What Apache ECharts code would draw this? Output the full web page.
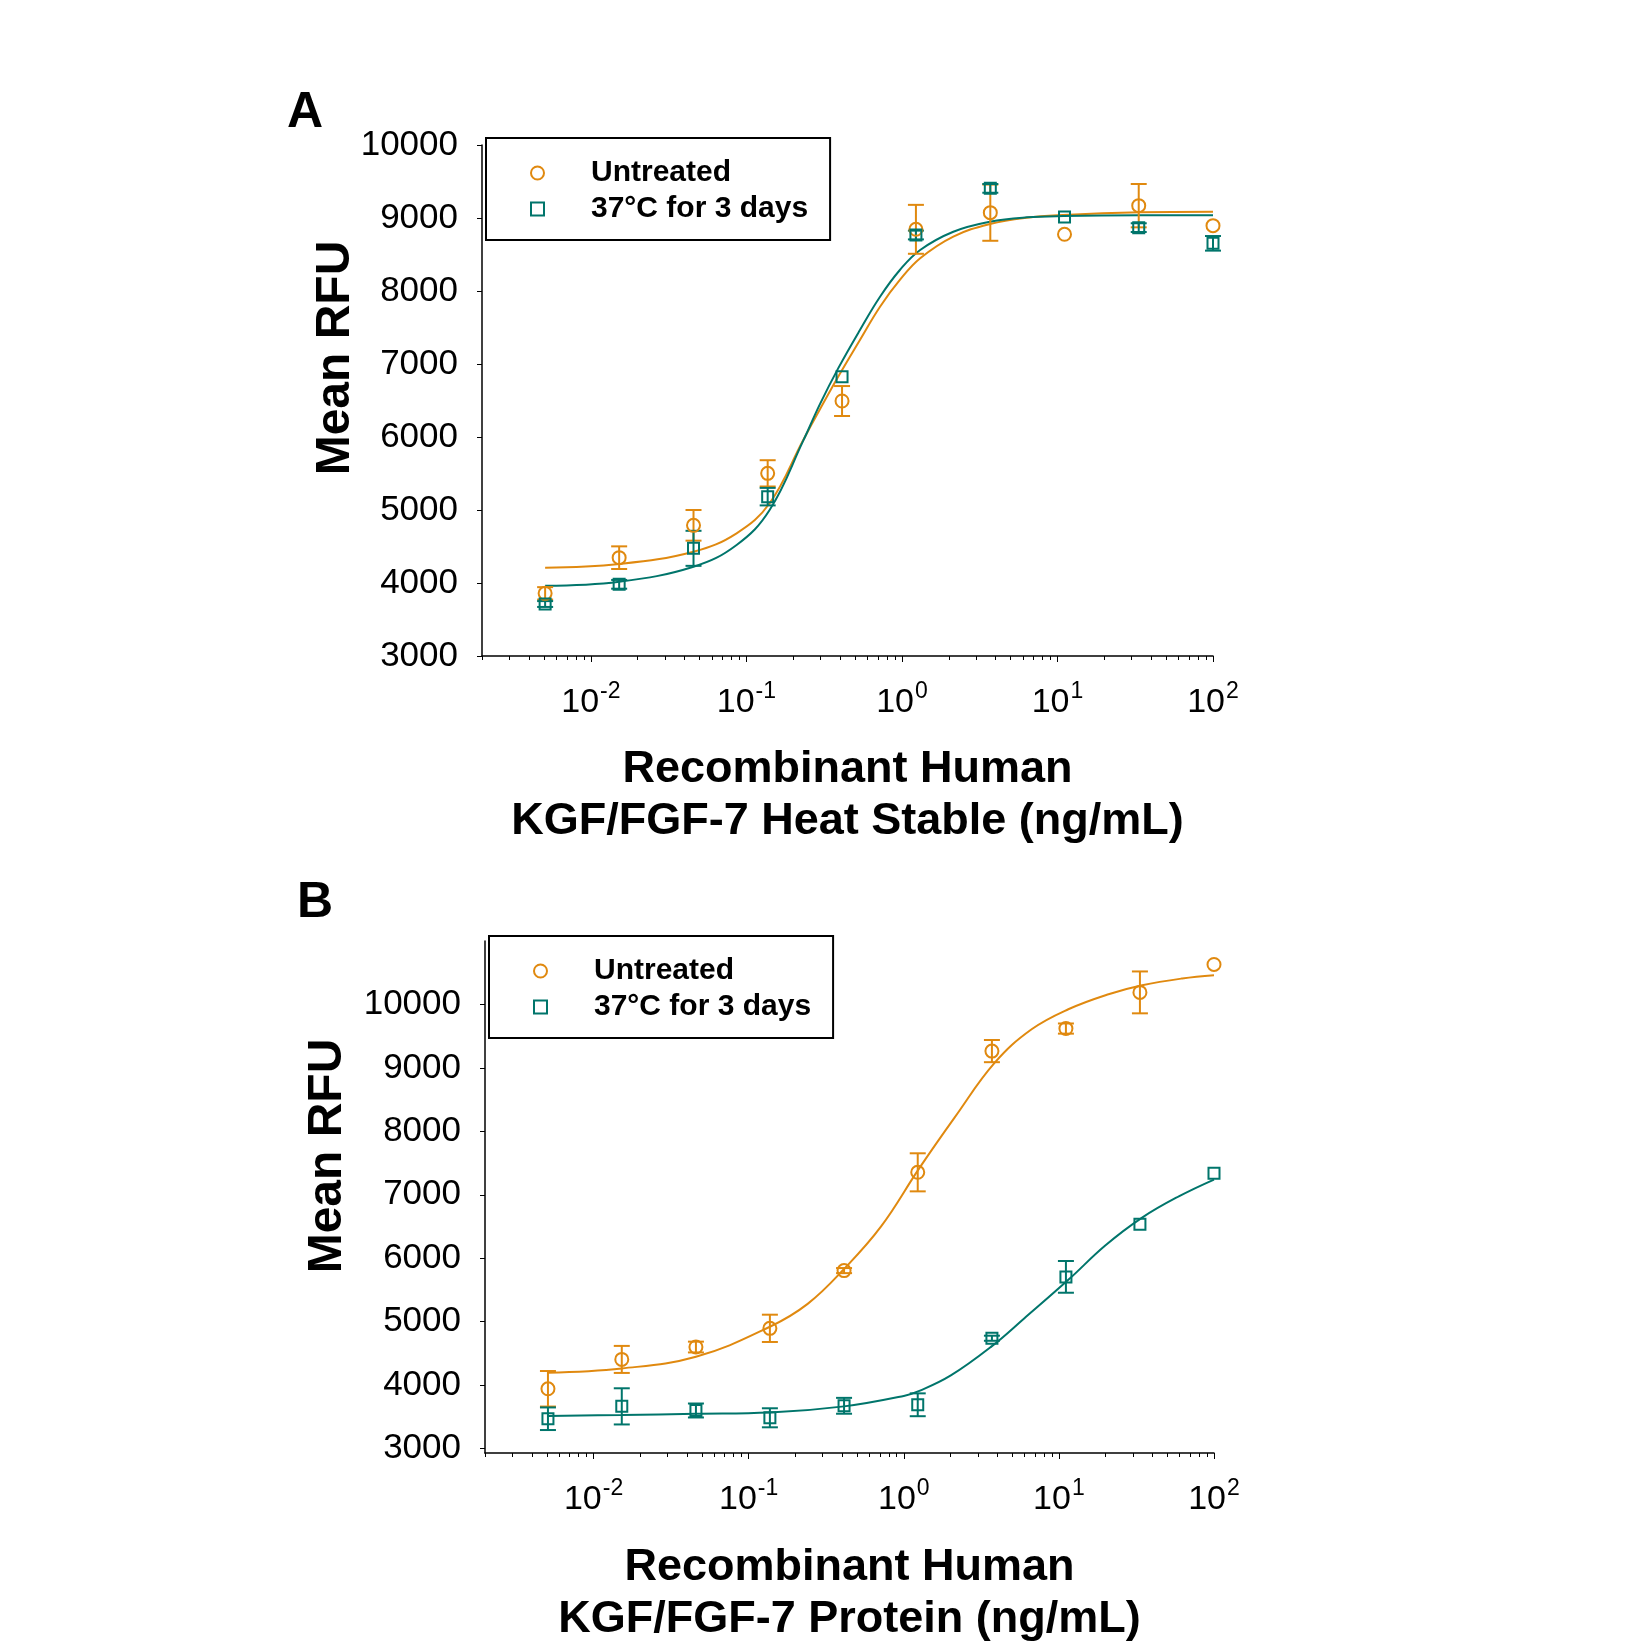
<!DOCTYPE html>
<html>
<head>
<meta charset="utf-8">
<script src="https://cdn.jsdelivr.net/npm/echarts@6/dist/echarts.min.js"></script>
<style>
  html, body { margin: 0; padding: 0; background: #fff; }
  #chart { width: 1645px; height: 1649px; }
</style>
</head>
<body>
<div id="chart"></div>
<script>
// concentrations (ng/mL), 3-fold dilution series
const conc = [0.00508, 0.0152, 0.0457, 0.137, 0.412, 1.23, 3.70, 11.1, 33.3, 100];

// Panel A - KGF/FGF-7 Heat Stable
const untreatedA = [3858, 4347, 4790, 5502, 6493, 8845, 9073, 8777, 9169, 8895];
const untreatedASd = [85, 155, 210, 180, 205, 335, 385, 0, 297, 0];
const heatedA = [3712, 3982, 4475, 5183, 6826, 8767, 9406, 9014, 8868, 8653];
const heatedASd = [40, 60, 240, 120, 0, 60, 60, 0, 60, 100];

// fitted curves
const curveXA = [0.00508, 0.0152, 0.0457, 0.0865, 0.141, 0.232, 0.297, 0.389, 0.537, 0.723, 0.97, 1.31, 2.14, 3.68, 6.34, 10.9, 34.0, 100];
const untreatedFitA = [4210, 4260, 4429, 4681, 5092, 5960, 6380, 6826, 7329, 7785, 8151, 8448, 8745, 8918, 9005, 9041, 9078, 9087];
const heatedFitA = [3963, 4018, 4223, 4521, 5000, 5950, 6450, 6940, 7466, 7922, 8288, 8562, 8812, 8949, 9009, 9027, 9036, 9036];

// Panel B - KGF/FGF-7 Protein
const untreatedB = [3942, 4405, 4600, 4895, 5805, 7354, 9265, 9620, 10190, 10630];
const untreatedBSd = [280, 213, 85, 215, 40, 300, 175, 80, 330, 0];
const heatedB = [3470, 3665, 3600, 3485, 3674, 3690, 4739, 5706, 6535, 7340];
const heatedBSd = [178, 285, 110, 150, 125, 180, 40, 250, 0, 0];

const untreatedFitXB = [0.00508, 0.0152, 0.0457, 0.137, 0.24, 0.412, 0.714, 1.26, 2.13, 3.86, 6.67, 11.5, 20.9, 34.4, 62.4, 100];
const untreatedFitB = [4195, 4263, 4447, 4920, 5280, 5830, 6501, 7420, 8220, 9082, 9608, 9924, 10161, 10303, 10409, 10460];
const heatedFitXB = [0.00508, 0.0152, 0.0457, 0.137, 0.412, 1.0, 1.26, 2.01, 3.70, 5.97, 11.5, 19.9, 34.4, 59.3, 100];
const heatedFitB = [3515, 3530, 3548, 3568, 3665, 3830, 3908, 4152, 4614, 5050, 5659, 6200, 6640, 6975, 7240];

const yTicks = [3000, 4000, 5000, 6000, 7000, 8000, 9000, 10000];
const decades = [-2, -1, 0, 1, 2];
const seriesNames = ['Untreated', '37°C for 3 days'];

const ORANGE = '#E0890F';
const TEAL = '#00756B';
const FONT = '"Liberation Sans", Arial, sans-serif';

const xMin = -2.7, xMax = 2;
const minorTicks = [];
for (let d = -3; d <= 1; d++) {
  for (let k = 2; k <= 9; k++) {
    const v = Math.log10(k * Math.pow(10, d));
    if (v >= xMin && v <= xMax) minorTicks.push(v);
  }
}

const toXY = (xs, ys) => xs.map((x, i) => [Math.log10(x), ys[i]]);
const toErr = (ys, sds) => conc.map((c, i) => [Math.log10(c), ys[i], sds[i]]).filter(d => d[2] > 0);

function errorBar(params, api) {
  const x = api.value(0), y = api.value(1), sd = api.value(2);
  const hi = api.coord([x, y + sd]);
  const lo = api.coord([x, y - sd]);
  const half = 8;
  const style = { stroke: api.visual('color'), lineWidth: 2 };
  return {
    type: 'group',
    children: [
      { type: 'line', shape: { x1: hi[0], y1: hi[1], x2: lo[0], y2: lo[1] }, style },
      { type: 'line', shape: { x1: hi[0] - half, y1: hi[1], x2: hi[0] + half, y2: hi[1] }, style },
      { type: 'line', shape: { x1: lo[0] - half, y1: lo[1], x2: lo[0] + half, y2: lo[1] }, style }
    ]
  };
}

function xAxes(grid, title, gap) {
  return [
    {
      gridIndex: grid, type: 'value', min: xMin, max: xMax, position: 'bottom',
      axisLine: { onZero: false, lineStyle: { color: '#000', width: 1.5 } },
      axisTick: { customValues: decades, length: 6, lineStyle: { color: '#000', width: 1 } },
      axisLabel: {
        customValues: decades, margin: 24, color: '#000',
        formatter: v => '{b|10}{s|' + Math.round(v) + '}',
        rich: {
          b: { fontSize: 34, fontFamily: FONT, color: '#000', lineHeight: 40, verticalAlign: 'bottom' },
          s: { fontSize: 23, fontFamily: FONT, color: '#000', lineHeight: 40, verticalAlign: 'top', padding: [0, 0, 14, 1] }
        }
      },
      splitLine: { show: false },
      name: title, nameLocation: 'middle', nameGap: gap,
      nameTextStyle: { fontSize: 45, fontWeight: 'bold', fontFamily: FONT, color: '#000', lineHeight: 52 }
    },
    {
      gridIndex: grid, type: 'value', min: xMin, max: xMax, position: 'bottom',
      axisLine: { show: false, onZero: false },
      axisTick: { customValues: minorTicks, length: 4, lineStyle: { color: '#000', width: 1 } },
      axisLabel: { show: false },
      splitLine: { show: false }
    }
  ];
}

function yAxis(grid, min, max) {
  return {
    gridIndex: grid, type: 'value', min: min, max: max,
    axisLine: { show: true, onZero: false, lineStyle: { color: '#000', width: 1.5 } },
    axisTick: { show: true, customValues: yTicks, length: 5, lineStyle: { color: '#000', width: 1 } },
    axisLabel: { customValues: yTicks, formatter: v => String(v), fontSize: 35, fontFamily: FONT, color: '#000', margin: 24 },
    splitLine: { show: false }
  };
}

function panelSeries(grid, fits, points) {
  const xi = grid * 2, yi = grid;
  const out = [];
  fits.forEach(f => out.push({
    name: f.name, type: 'line', xAxisIndex: xi, yAxisIndex: yi,
    data: toXY(f.x, f.y), showSymbol: false, smooth: 0.4,
    lineStyle: { color: f.color, width: 2 }, itemStyle: { color: f.color }, silent: true, z: 2
  }));
  points.forEach(p => {
    out.push({
      name: p.name + ' err', type: 'custom', xAxisIndex: xi, yAxisIndex: yi,
      data: toErr(p.y, p.sd), renderItem: errorBar, encode: { x: 0, y: 1 },
      itemStyle: { color: p.color }, silent: true, z: 3
    });
    out.push({
      name: p.name, type: 'scatter', xAxisIndex: xi, yAxisIndex: yi,
      data: toXY(conc, p.y), symbol: p.symbol, symbolSize: p.size,
      itemStyle: { color: 'rgba(0,0,0,0)', borderColor: p.color, borderWidth: 2, opacity: 1 },
      silent: true, z: 4
    });
  });
  return out;
}

function legend(left, top) {
  return {
    left: left, top: top, orient: 'vertical', data: seriesNames,
    selectedMode: false, backgroundColor: '#fff',
    borderColor: '#000', borderWidth: 2, borderRadius: 0,
    padding: [20, 22, 16, 44], itemWidth: 13, itemHeight: 13, itemGap: 6,
    textStyle: { fontSize: 30, fontWeight: 'bold', fontFamily: FONT, color: '#000', lineHeight: 30, padding: [0, 0, 0, 42] }
  };
}

const chart = echarts.init(document.getElementById('chart'), null, { renderer: 'canvas' });

const option = {
  backgroundColor: '#fff',
  animation: false,
  grid: [
    { left: 482, top: 145, width: 731, height: 511 },
    { left: 485, top: 941, width: 729, height: 512 }
  ],
  xAxis: [
    ...xAxes(0, 'Recombinant Human\nKGF/FGF-7 Heat Stable (ng/mL)', 88),
    ...xAxes(1, 'Recombinant Human\nKGF/FGF-7 Protein (ng/mL)', 89)
  ],
  yAxis: [yAxis(0, 3000, 10000), yAxis(1, 2930, 11000)],
  legend: [legend(486, 138), legend(489, 936)],
  graphic: [
    { type: 'text', x: 305, y: 113, style: { text: 'A', font: 'bold 50px ' + FONT, fill: '#000', align: 'center', verticalAlign: 'middle' } },
    { type: 'text', x: 315, y: 903, style: { text: 'B', font: 'bold 50px ' + FONT, fill: '#000', align: 'center', verticalAlign: 'middle' } },
    { type: 'text', x: 336, y: 358, rotation: Math.PI / 2, style: { text: 'Mean RFU', font: 'bold 48px ' + FONT, fill: '#000', align: 'center', verticalAlign: 'middle' } },
    { type: 'text', x: 328, y: 1156, rotation: Math.PI / 2, style: { text: 'Mean RFU', font: 'bold 48px ' + FONT, fill: '#000', align: 'center', verticalAlign: 'middle' } }
  ],
  series: [
    ...panelSeries(0,
      [
        { name: 'Untreated fit A', x: curveXA, y: untreatedFitA, color: ORANGE },
        { name: 'Heated fit A', x: curveXA, y: heatedFitA, color: TEAL }
      ],
      [
        { name: seriesNames[0], y: untreatedA, sd: untreatedASd, color: ORANGE, symbol: 'circle', size: 13 },
        { name: seriesNames[1], y: heatedA, sd: heatedASd, color: TEAL, symbol: 'rect', size: 11 }
      ]),
    ...panelSeries(1,
      [
        { name: 'Untreated fit B', x: untreatedFitXB, y: untreatedFitB, color: ORANGE },
        { name: 'Heated fit B', x: heatedFitXB, y: heatedFitB, color: TEAL }
      ],
      [
        { name: seriesNames[0], y: untreatedB, sd: untreatedBSd, color: ORANGE, symbol: 'circle', size: 13 },
        { name: seriesNames[1], y: heatedB, sd: heatedBSd, color: TEAL, symbol: 'rect', size: 11 }
      ])
  ]
};

chart.setOption(option);
</script>
</body>
</html>
